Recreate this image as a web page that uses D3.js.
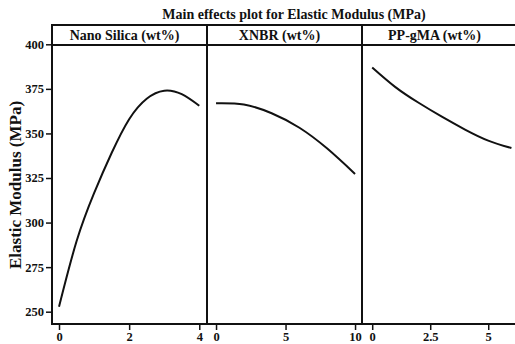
<!DOCTYPE html>
<html><head><meta charset="utf-8">
<script src="https://cdn.jsdelivr.net/npm/d3@7"></script>
<style>body{margin:0;background:#fff;}svg{display:block;}text{font-family:"Liberation Serif","Times New Roman",serif;font-weight:bold;fill:#111;}</style>
</head><body>
<script>
const title = "Main effects plot for Elastic Modulus (MPa)";
const yLabel = "Elastic Modulus (MPa)";
const factors = ["Nano Silica (wt%)", "XNBR (wt%)", "PP-gMA (wt%)"];
const yTicks = [250, 275, 300, 325, 350, 375, 400];
const silicaX = [0, 0.5, 1, 1.5, 2, 2.5, 3, 3.5, 4];
const silicaY = [252.8, 289.5, 316.5, 339, 358, 369.5, 374, 372, 365.5];
const xnbrX = [0, 2, 4, 6, 8, 10];
const xnbrY = [366.9, 366.2, 361.3, 353.2, 341.5, 327.3];
const gmaX = [0, 1, 2, 3, 4, 5, 6];
const gmaY = [387, 376, 367.2, 359.4, 352.2, 346, 341.8];
const xTicks1 = [0, 2, 4];
const xTicks2 = [0, 5, 10];
const xTicks3 = [0, 2.5, 5];

(function () {
const W = 515, H = 344;
const svg = d3.select("body").append("svg").attr("width", W).attr("height", H);

const mLeft = 52, mTop = 25, stripBottom = 45, mBottom = 324, panelW = 155;
const y = d3.scaleLinear().domain([243.1, 400]).range([mBottom, 44.3]);

const panels = [
  {name: factors[0], xs: silicaX, ys: silicaY, ticks: xTicks1, dom: [-0.2, 4.22]},
  {name: factors[1], xs: xnbrX, ys: xnbrY, ticks: xTicks2, dom: [-0.65, 10.5]},
  {name: factors[2], xs: gmaX, ys: gmaY, ticks: xTicks3, dom: [-0.44, 6.24]}
];

svg.append("text").attr("x", 294).attr("y", 19).attr("text-anchor", "middle")
  .style("font-size", "14px").text(title);

svg.append("text").attr("transform", "translate(21,185) rotate(-90)")
  .attr("text-anchor", "middle").style("font-size", "17px").text(yLabel);

const yAxis = d3.axisLeft(y).tickValues(yTicks).tickSize(6).tickPadding(2);
const ya = svg.append("g").attr("transform", `translate(${mLeft},0)`).call(yAxis);
ya.select(".domain").remove();
ya.selectAll("line").attr("stroke", "#111").attr("stroke-width", 1.5);
ya.selectAll("text").style("font-size", "12.5px").attr("fill", "#111");

panels.forEach((p, i) => {
  const x0 = mLeft + i * panelW, x1 = x0 + panelW;
  const x = d3.scaleLinear().domain(p.dom).range([x0, x1]);
  const xa = svg.append("g").attr("transform", `translate(0,${mBottom})`)
    .call(d3.axisBottom(x).tickValues(p.ticks).tickFormat(d3.format("~g")).tickSize(6).tickPadding(2));
  xa.select(".domain").remove();
  xa.selectAll("line").attr("stroke", "#111").attr("stroke-width", 1.5);
  xa.selectAll("text").style("font-size", "12.5px").attr("fill", "#111");

  const pts = p.xs.map((v, k) => [v, p.ys[k]]);
  svg.append("path").datum(pts)
    .attr("d", d3.line().x(d => x(d[0])).y(d => y(d[1])).curve(d3.curveNatural))
    .attr("fill", "none").attr("stroke", "#111").attr("stroke-width", 2);

  svg.append("text").attr("x", (x0 + x1) / 2 - 5).attr("y", 40).attr("text-anchor", "middle")
    .style("font-size", "14px").text(p.name);

  svg.append("rect").attr("x", x0).attr("y", mTop).attr("width", panelW).attr("height", mBottom - mTop)
    .attr("fill", "none").attr("stroke", "#111").attr("stroke-width", 2);
  svg.append("line").attr("x1", x0).attr("x2", x1).attr("y1", stripBottom).attr("y2", stripBottom)
    .attr("stroke", "#111").attr("stroke-width", 2);
});
})();
</script>
</body></html>
